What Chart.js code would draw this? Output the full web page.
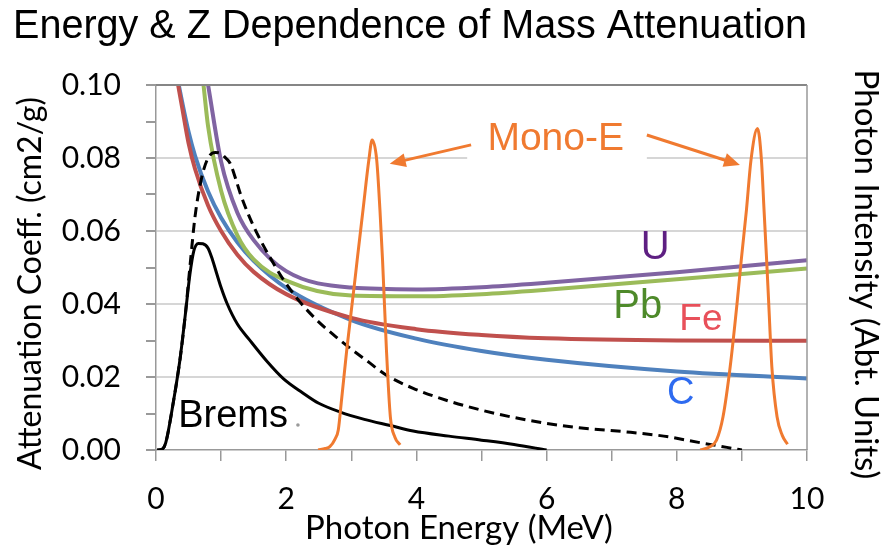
<!DOCTYPE html>
<html>
<head>
<meta charset="utf-8">
<title>Energy &amp; Z Dependence of Mass Attenuation</title>
<script src="https://cdn.jsdelivr.net/npm/chart.js@4.4.1/dist/chart.umd.min.js"></script>
<style>
    html, body { margin: 0; padding: 0; background: #fff; }
</style>
</head>
<body>
<canvas id="muChart" width="883" height="548"></canvas>
<script>

// Mass attenuation coefficient (cm2/g) vs photon energy (MeV)
const energyC = [0.35, 0.4, 0.5, 0.6, 0.8, 1, 1.25, 1.5, 2, 3, 4, 5, 6, 8, 10];
const muCarbon = [0.100, 0.0955, 0.0872, 0.0806, 0.0708, 0.0636, 0.0569, 0.0518, 0.0444, 0.0356, 0.0305, 0.0271, 0.0247, 0.0215, 0.0196];

const energyFe = [0.34, 0.4, 0.5, 0.6, 0.8, 1, 1.25, 1.5, 2, 3, 4, 5, 6, 8, 10];
const muIron = [0.100, 0.0940, 0.0841, 0.0770, 0.0670, 0.0600, 0.0535, 0.0488, 0.0427, 0.0362, 0.0331, 0.0315, 0.0306, 0.0300, 0.0299];

const energyPb = [0.73, 0.8, 1, 1.25, 1.5, 2, 3, 4, 5, 6, 8, 10];
const muLead = [0.100, 0.0887, 0.0710, 0.0588, 0.0522, 0.0464, 0.0423, 0.0421, 0.0427, 0.0439, 0.0468, 0.0497];

const energyU = [0.8, 1, 1.25, 1.5, 2, 3, 4, 5, 6, 8, 10];
const muUranium = [0.100, 0.0790, 0.0650, 0.0575, 0.0490, 0.0445, 0.0440, 0.0446, 0.0458, 0.0487, 0.0520];

// Bremsstrahlung spectra (abt. units, same axis)
const energyBrems = [0.02, 0.1, 0.15, 0.27, 0.37, 0.45, 0.52, 0.58, 0.65, 0.72, 0.8, 0.87, 0.93, 1.0, 1.09, 1.25, 1.44, 1.7, 1.96, 2.25, 2.5, 2.83, 3.2, 3.6, 3.95, 4.5, 5.0, 5.5, 6.0];
const intBrems = [0, 0.0003, 0.002, 0.0135, 0.025, 0.037, 0.048, 0.0545, 0.0566, 0.0565, 0.0553, 0.052, 0.0485, 0.0445, 0.0402, 0.0345, 0.0301, 0.0244, 0.0195, 0.0157, 0.0128, 0.0104, 0.0084, 0.0067, 0.0052, 0.0038, 0.0027, 0.0015, 0.0];

const energyBrems9 = [0.02, 0.1, 0.15, 0.27, 0.37, 0.45, 0.52, 0.6, 0.7, 0.8, 0.91, 1.0, 1.07, 1.14, 1.22, 1.3, 1.42, 1.55, 1.75, 1.96, 2.2, 2.47, 2.75, 2.98, 3.25, 3.54, 3.95, 4.5, 4.98, 5.5, 6.0, 6.5, 7.2, 7.8, 8.36, 9.0];
const intBrems9 = [0, 0.0003, 0.002, 0.0135, 0.025, 0.037, 0.050, 0.064, 0.0745, 0.0800, 0.0815, 0.0812, 0.0800, 0.0785, 0.0745, 0.0700, 0.0645, 0.0594, 0.0528, 0.0466, 0.0408, 0.0356, 0.0312, 0.0279, 0.0243, 0.0205, 0.0169, 0.0134, 0.0110, 0.0089, 0.0073, 0.0061, 0.0050, 0.0038, 0.0020, 0.0];

// Mono-energetic lines
const energyMono1 = [2.49, 2.6, 2.67, 2.75, 2.8, 2.85, 2.93, 3.05, 3.09, 3.18, 3.27, 3.32, 3.39, 3.44, 3.48, 3.54, 3.6, 3.67, 3.75];
const intMono1 = [0, 0.0004, 0.0009, 0.003, 0.0055, 0.0137, 0.0274, 0.0457, 0.052, 0.0658, 0.0795, 0.0849, 0.0795, 0.0658, 0.052, 0.0274, 0.0091, 0.0035, 0.0014];

const energyMono2 = [8.36, 8.5, 8.61, 8.71, 8.82, 8.93, 8.99, 9.07, 9.14, 9.24, 9.30, 9.34, 9.38, 9.41, 9.46, 9.54, 9.62, 9.70];
const intMono2 = [0, 0.0008, 0.0027, 0.0091, 0.0228, 0.041, 0.052, 0.0658, 0.0795, 0.0881, 0.0795, 0.0658, 0.052, 0.041, 0.0228, 0.0091, 0.0040, 0.0016];

const xTicks = [0, 2, 4, 6, 8, 10];
const yTicks = [0.00, 0.02, 0.04, 0.06, 0.08, 0.10];

const orange = '#F07A30';

function pts(xs, ys) {
    return xs.map((e, i) => ({ x: e, y: ys[i] }));
}

// text annotations, placed in data units
const notes = [
    { text: 'U', x: 7.67, y: 0.0523, color: '#5E1F82', size: 40 },
    { text: 'Pb', x: 7.40, y: 0.0362, color: '#4E8A2A', size: 40 },
    { text: 'Fe', x: 8.37, y: 0.0329, color: '#E8505A', size: 37 },
    { text: 'C', x: 8.06, y: 0.0125, color: '#2E6BF0', size: 38 },
    { text: 'Mono-E', x: 6.14, y: 0.0822, color: orange, size: 39 }
];
const bremsNote = { text: 'Brems', x: 0.34, y: 0.0063 };
const monoBox = [4.78, 7.54, 0.0926, 0.0789];
const arrows = [
    [4.84, 0.0836, 3.59, 0.0784],
    [7.54, 0.0863, 8.97, 0.0781]
];

function drawArrow(ctx, xa, ya, xb, yb) {
    const ang = Math.atan2(yb - ya, xb - xa);
    const head = 16, half = 7;
    const bx = xb - head * Math.cos(ang);
    const by = yb - head * Math.sin(ang);
    ctx.strokeStyle = orange;
    ctx.fillStyle = orange;
    ctx.lineWidth = 3;
    ctx.beginPath();
    ctx.moveTo(xa, ya);
    ctx.lineTo(bx + 3 * Math.cos(ang), by + 3 * Math.sin(ang));
    ctx.stroke();
    ctx.beginPath();
    ctx.moveTo(xb, yb);
    ctx.lineTo(bx + half * Math.sin(ang), by - half * Math.cos(ang));
    ctx.lineTo(bx - half * Math.sin(ang), by + half * Math.cos(ang));
    ctx.closePath();
    ctx.fill();
}

const extras = {
    id: 'extras',
    beforeDatasetsDraw(chart) {
        const { ctx, scales: { x, y } } = chart;
        // white patch under the Mono-E caption (hides the gridline)
        const x0 = x.getPixelForValue(monoBox[0]);
        const x1 = x.getPixelForValue(monoBox[1]);
        const y0 = y.getPixelForValue(monoBox[2]);
        const y1 = y.getPixelForValue(monoBox[3]);
        ctx.save();
        ctx.fillStyle = '#fff';
        ctx.fillRect(x0, y0, x1 - x0, y1 - y0);
        ctx.restore();
    },
    afterDatasetsDraw(chart) {
        const { ctx, scales: { x, y } } = chart;
        ctx.save();
        ctx.textAlign = 'center';
        ctx.textBaseline = 'alphabetic';
        notes.forEach(n => {
            ctx.font = n.size + 'px "Liberation Sans", Arial, sans-serif';
            ctx.fillStyle = n.color;
            ctx.fillText(n.text, x.getPixelForValue(n.x), y.getPixelForValue(n.y));
        });
        ctx.textAlign = 'left';
        ctx.font = '38px "Liberation Sans", Arial, sans-serif';
        ctx.fillStyle = '#000';
        const bx = x.getPixelForValue(bremsNote.x);
        const by = y.getPixelForValue(bremsNote.y);
        ctx.fillText(bremsNote.text, bx, by);
        const w = ctx.measureText(bremsNote.text).width;
        ctx.fillStyle = '#9a9a9a';
        ctx.beginPath();
        ctx.arc(bx + w + 10, by - 2, 1.8, 0, Math.PI * 2);
        ctx.fill();
        arrows.forEach(a => {
            drawArrow(ctx, x.getPixelForValue(a[0]), y.getPixelForValue(a[1]),
                x.getPixelForValue(a[2]), y.getPixelForValue(a[3]));
        });
        ctx.restore();
    },
    afterDraw(chart) {
        const { ctx, chartArea } = chart;
        ctx.save();
        // top and right frame
        ctx.strokeStyle = '#868686';
        ctx.lineWidth = 2;
        ctx.beginPath();
        ctx.moveTo(chartArea.left, chartArea.top);
        ctx.lineTo(chartArea.right, chartArea.top);
        ctx.stroke();
        ctx.lineWidth = 1.5;
        ctx.strokeStyle = '#999';
        ctx.beginPath();
        ctx.moveTo(chartArea.right, chartArea.top);
        ctx.lineTo(chartArea.right, chartArea.bottom);
        ctx.stroke();

        // axis titles
        const midY = (chartArea.top + chartArea.bottom) / 2;
        ctx.fillStyle = '#000';
        ctx.textAlign = 'center';
        ctx.textBaseline = 'middle';
        ctx.font = '33px Lato, sans-serif';
        ctx.fillText('Photon Energy (MeV)', chartArea.left + 303, chart.height - 20);

        ctx.save();
        ctx.font = '32px Lato, sans-serif';
        ctx.translate(31, midY + 16);
        ctx.rotate(-Math.PI / 2);
        ctx.fillText('Attenuation Coeff. (cm2/g)', 0, 0);
        ctx.restore();

        ctx.save();
        ctx.font = '33px Lato, sans-serif';
        ctx.translate(866, midY + 7);
        ctx.rotate(Math.PI / 2);
        ctx.fillText('Photon Intensity (Abt. Units)', 0, 0);
        ctx.restore();
        ctx.restore();
    }
};

const ctx = document.getElementById('muChart').getContext('2d');

const muChart = new Chart(ctx, {
    type: 'line',
    data: {
        datasets: [
            { label: 'Mono 3.3', data: pts(energyMono1, intMono1), borderColor: orange, borderWidth: 3 },
            { label: 'Mono 9.2', data: pts(energyMono2, intMono2), borderColor: orange, borderWidth: 3 },
            { label: 'Brems 9 MV', data: pts(energyBrems9, intBrems9), borderColor: '#000', borderWidth: 3, borderDash: [10, 6] },
            { label: 'Brems 6 MV', data: pts(energyBrems, intBrems), borderColor: '#000', borderWidth: 3 },
            { label: 'U', data: pts(energyU, muUranium), borderColor: '#8064A2', borderWidth: 4 },
            { label: 'Pb', data: pts(energyPb, muLead), borderColor: '#9BBB59', borderWidth: 4 },
            { label: 'Fe', data: pts(energyFe, muIron), borderColor: '#C0504D', borderWidth: 4 },
            { label: 'C', data: pts(energyC, muCarbon), borderColor: '#4F81BD', borderWidth: 4 }
        ]
    },
    options: {
        responsive: false,
        animation: false,
        devicePixelRatio: 1,
        elements: {
            point: { radius: 0 },
            line: { cubicInterpolationMode: 'monotone', borderCapStyle: 'butt', fill: false }
        },
        layout: { padding: { left: 13, right: 76, top: 0, bottom: 0 } },
        plugins: {
            legend: { display: false },
            tooltip: { enabled: false },
            title: {
                display: true,
                text: 'Energy & Z Dependence of Mass Attenuation',
                align: 'start',
                color: '#000',
                font: { family: '"Liberation Sans", Arial, sans-serif', size: 40, weight: 'normal', lineHeight: 1.2 },
                padding: { top: 3, bottom: 34 }
            }
        },
        scales: {
            x: {
                type: 'linear',
                position: 'bottom',
                min: 0,
                max: 10,
                afterFit: s => { s.height = 98; },
                ticks: {
                    stepSize: 1,
                    autoSkip: false,
                    maxRotation: 0,
                    padding: 20,
                    color: '#000',
                    font: { family: 'Lato, sans-serif', size: 30 },
                    callback: v => xTicks.includes(v) ? String(v) : ''
                },
                grid: { color: 'rgba(0,0,0,0)', tickColor: '#999', tickLength: 11, lineWidth: 1.5 },
                border: { color: '#999', width: 1.5 }
            },
            y: {
                type: 'linear',
                min: 0,
                max: 0.1,
                afterFit: s => { s.width = 143; },
                ticks: {
                    stepSize: 0.01,
                    autoSkip: false,
                    padding: 25,
                    color: '#000',
                    font: { family: 'Lato, sans-serif', size: 30 },
                    callback: v => {
                        const hit = yTicks.find(t => Math.abs(t - v) < 1e-6);
                        return hit === undefined ? '' : hit.toFixed(2);
                    }
                },
                grid: {
                    lineWidth: 2,
                    tickLength: 10,
                    tickColor: '#999',
                    color: c => {
                        const v = c.tick ? c.tick.value : 0;
                        const major = yTicks.some(t => Math.abs(t - v) < 1e-6);
                        return major && v > 1e-6 && v < 0.099 ? '#d6d6d6' : 'rgba(0,0,0,0)';
                    }
                },
                border: { color: '#999', width: 1.5 }
            }
        }
    },
    plugins: [extras]
});
</script>
</body>
</html>
